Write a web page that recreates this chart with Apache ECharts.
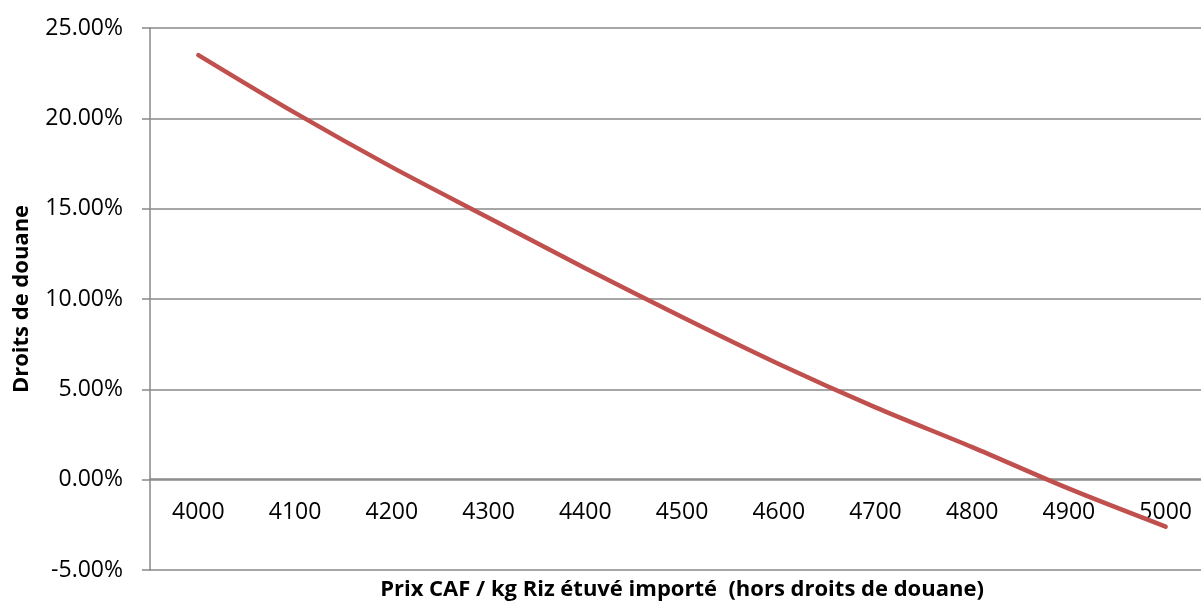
<!DOCTYPE html>
<html>
<head>
<meta charset="utf-8">
<script src="https://cdn.jsdelivr.net/npm/echarts@6/dist/echarts.min.js"></script>
<style>
html,body{margin:0;padding:0;background:#fff;}
#chart{width:1201px;height:604px;}
</style>
</head>
<body>
<div id="chart"></div>
<script>
const categories = ['4000','4100','4200','4300','4400','4500','4600','4700','4800','4900','5000'];
const droits = [23.5, 20.3, 17.3, 14.5, 11.7, 9.0, 6.4, 4.0, 1.8, -0.5, -2.6];
const xTitle = 'Prix CAF / kg Riz étuvé importé  (hors droits de douane)';
const yTitle = 'Droits de douane';

const FONT = '"Open Sans", "Noto Sans", sans-serif';
const chart = echarts.init(document.getElementById('chart'), null, {renderer: 'canvas'});
chart.setOption({
  animation: false,
  backgroundColor: '#ffffff',
  grid: {left: 150, right: -13, top: 28, bottom: 34, containLabel: false, outerBoundsMode: 'none'},
  xAxis: {
    type: 'category',
    data: categories,
    boundaryGap: true,
    offset: -91,
    axisLine: {onZero: false, lineStyle: {color: '#888888', width: 1.5}},
    axisTick: {show: false},
    axisLabel: {color: '#000', fontFamily: FONT, fontSize: 23, margin: 22},
    name: xTitle,
    nameLocation: 'middle',
    nameGap: 100,
    nameTextStyle: {color: '#000', fontFamily: FONT, fontSize: 22, fontWeight: 'bold'}
  },
  yAxis: {
    type: 'value',
    min: -5, max: 25, interval: 5,
    axisLine: {show: true, lineStyle: {color: '#888888', width: 1.5}},
    axisTick: {show: true, length: 8, lineStyle: {color: '#888888', width: 1.5}},
    axisLabel: {color: '#000', fontFamily: FONT, fontSize: 23, margin: 27,
      formatter: v => v.toFixed(2) + '%'},
    splitLine: {show: true, lineStyle: {color: '#888888', width: 1.5}},
    name: yTitle,
    nameLocation: 'middle',
    nameRotate: 90,
    nameGap: 117,
    nameTextStyle: {color: '#000', fontFamily: FONT, fontSize: 22, fontWeight: 'bold'}
  },
  series: [{
    type: 'line',
    data: droits,
    smooth: 0.3,
    symbol: 'none',
    lineStyle: {color: '#C0504D', width: 4.5, cap: 'round'}
  }]
});
</script>
</body>
</html>
